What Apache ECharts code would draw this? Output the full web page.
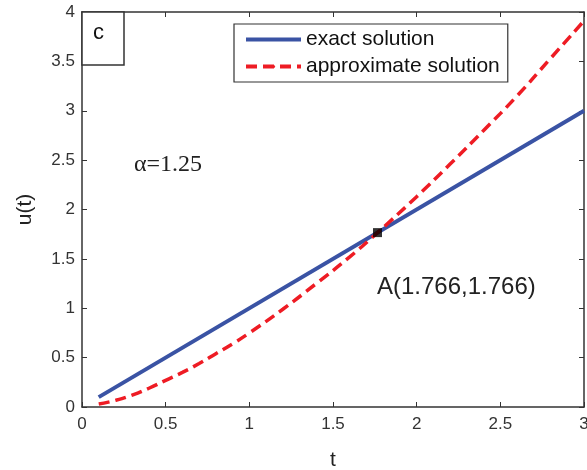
<!DOCTYPE html>
<html lang="en">
<head>
  <meta charset="utf-8">
  <title>exact vs approximate solution</title>
  <script src="https://cdn.jsdelivr.net/npm/echarts@6/dist/echarts.min.js"></script>
  <style>
    * { margin: 0; padding: 0; }
    html, body, #chart { width: 587px; height: 470px; overflow: hidden; background: #fff; }
  </style>
</head>
<body>
  <div id="chart"></div>
  <script>
    // exact solution u(t) = t, drawn as a straight line
    const exactT = [0.1, 3];
    const exactU = [0.1, 3];

    // approximate solution
    const approxT = [0.1, 0.2, 0.3, 0.4, 0.5, 0.6, 0.7, 0.8, 0.9, 1.0, 1.2, 1.4, 1.6, 1.766, 2.0, 2.2, 2.4, 2.6, 2.8, 3.0];
    const approxU = [0.03, 0.067, 0.12, 0.19, 0.27, 0.35, 0.44, 0.54, 0.64, 0.75, 0.99, 1.25, 1.52, 1.766, 2.13, 2.46, 2.80, 3.15, 3.53, 3.91];

    // intersection point A
    const pointA = [1.766, 1.766];

    const zip = (xs, ys) => xs.map((x, i) => [x, ys[i]]);

    const chart = echarts.init(document.getElementById('chart'));

    const axisLine = { show: true, onZero: false, lineStyle: { color: '#333', width: 1.5 } };
    const tickIn = { show: true, inside: true, length: 5, lineStyle: { color: '#333', width: 1 } };
    const tickLabel = { color: '#333', fontSize: 17, fontFamily: 'Liberation Sans, Arial' };

    const option = {
      animation: false,
      grid: { left: 82, right: 3, top: 12, bottom: 63, outerBoundsMode: 'none' },
      xAxis: [{
        type: 'value', min: 0, max: 3, interval: 0.5,
        name: 't', nameLocation: 'middle', nameGap: 43,
        nameTextStyle: { color: '#222', fontSize: 21, fontFamily: 'Liberation Sans, Arial' },
        axisLine: axisLine, axisTick: tickIn,
        axisLabel: Object.assign({ margin: 9 }, tickLabel),
        splitLine: { show: false }
      }, {
        type: 'value', min: 0, max: 3, interval: 0.5, position: 'top',
        axisLine: axisLine, axisTick: tickIn, axisLabel: { show: false },
        splitLine: { show: false }
      }],
      yAxis: [{
        type: 'value', min: 0, max: 4, interval: 0.5,
        name: 'u(t)', nameLocation: 'middle', nameGap: 46, nameRotate: 90,
        nameTextStyle: { color: '#222', fontSize: 21, fontFamily: 'Liberation Sans, Arial' },
        axisLine: axisLine, axisTick: tickIn,
        axisLabel: Object.assign({ margin: 7 }, tickLabel),
        splitLine: { show: false }
      }, {
        type: 'value', min: 0, max: 4, interval: 0.5, position: 'right',
        axisLine: axisLine, axisTick: tickIn, axisLabel: { show: false },
        splitLine: { show: false }
      }],
      legend: {
        left: 234, top: 24, orient: 'vertical',
        itemWidth: 55, itemHeight: 4, itemGap: 6,
        padding: [5, 8, 5, 10],
        borderColor: '#333', borderWidth: 1.2, borderRadius: 0,
        backgroundColor: '#fff',
        textStyle: { color: '#111', fontSize: 21, fontFamily: 'Liberation Sans, Arial' },
        data: [
          { name: 'exact solution', icon: 'rect' },
          { name: 'approximate solution', itemStyle: { borderWidth: 0 }, lineStyle: { width: 4 } }
        ]
      },
      series: [{
        name: 'exact solution',
        type: 'line',
        data: zip(exactT, exactU),
        symbol: 'none',
        lineStyle: { color: '#3a53a4', width: 4 },
        itemStyle: { color: '#3a53a4' },
        z: 2
      }, {
        name: 'approximate solution',
        type: 'line',
        smooth: true,
        data: zip(approxT, approxU),
        symbol: 'none',
        lineStyle: { color: '#ee1c24', width: 3.5, type: [11, 6] },
        itemStyle: { color: '#ee1c24' },
        z: 3
      }, {
        name: 'A',
        type: 'scatter',
        data: [pointA],
        symbol: 'rect',
        symbolSize: 9,
        itemStyle: { color: '#000' },
        z: 5
      }],
      graphic: [{
        type: 'rect',
        shape: { x: 82, y: 12, width: 42, height: 53 },
        style: { fill: '#fff', stroke: '#333', lineWidth: 1.5 },
        z: 10
      }, {
        type: 'text', left: 93, top: 22, z: 11,
        style: { text: 'c', fill: '#111', fontSize: 22, fontFamily: 'Liberation Sans, Arial' }
      }, {
        type: 'text', left: 134, top: 153, z: 11,
        style: { text: 'α=1.25', fill: '#222', fontSize: 24, fontFamily: 'Liberation Serif, Times New Roman' }
      }, {
        type: 'text', left: 377, top: 275, z: 11,
        style: { text: 'A(1.766,1.766)', fill: '#222', fontSize: 24, fontFamily: 'Liberation Sans, Arial' }
      }]
    };

    chart.setOption(option);
  </script>
</body>
</html>
